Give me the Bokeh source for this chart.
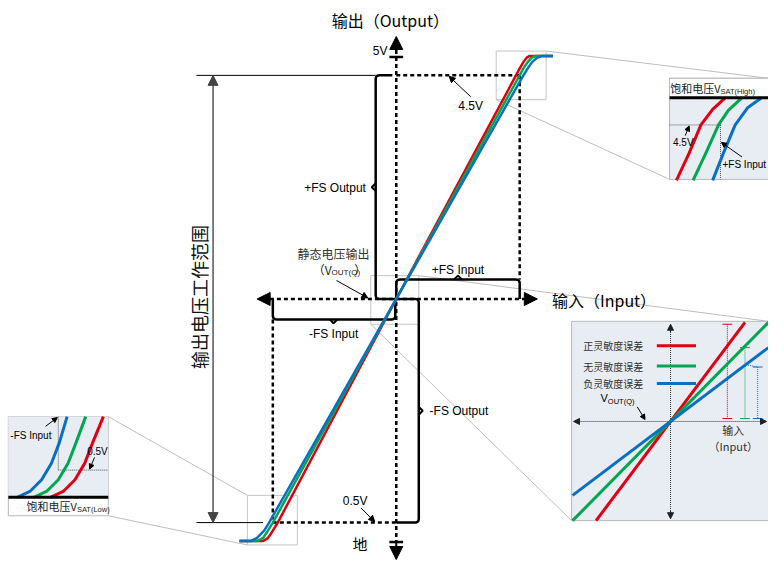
import numpy as np
from bokeh.plotting import figure
from bokeh.models import Range1d, Arrow, NormalHead
from bokeh.core.properties import value
from bokeh.embed import file_html
from bokeh.resources import INLINE

# ---------------- data ----------------
# output voltage levels (V)
v_gnd, v_low, v_q, v_high, v_sup = 0.0, 0.5, 2.5, 4.5, 5.0
fs = 1.0  # full-scale input (normalised)

# main transfer curves: input (x full scale) -> output (V)
red_in = [-1.27, -1.08, -1.04, -1.00, -0.96, 0.00, 0.97, 1.00, 1.03, 1.055, 1.08, 1.27]
green_in = [-1.27, -1.13, -1.08, -1.04, -1.00, 0.00, 1.00, 1.03, 1.065, 1.095, 1.13, 1.27]
blue_in = [-1.27, -1.18, -1.13, -1.07, -1.03, 0.00, 1.03, 1.065, 1.10, 1.14, 1.18, 1.27]
curve_out = [0.00, 0.00, 0.08, 0.28, 0.50, 2.50, 4.50, 4.68, 4.84, 4.95, 5.00, 5.00]

# centre inset: sensitivity error lines (input, output), normalised
c_red_in, c_red_out = [-0.76, 0.76], [-1.02, 1.02]
c_green_in, c_green_out = [-1.0, 1.0], [-1.02, 1.02]
c_blue_in, c_blue_out = [-1.0, 1.0], [-0.76, 0.76]
c_err_x = [0.58, 0.76, 0.89]
c_err_top = [1.00, 0.76, 0.56]
legend_labels = ["正灵敏度误差", "无灵敏度误差", "负灵敏度误差"]

# top-right inset (high saturation), local units
tr_red_a = [7, 20, 32, 44, 57]
tr_green_a = [24, 37, 50, 60, 74]
tr_blue_a = [44, 55, 67, 80, 94]
tr_red_b = [-1, 27, 56, 72, 84]
tr_green_b = [-1, 27, 56, 71, 84]
tr_blue_b = [-1, 27, 56, 74, 84]

# bottom-left inset (low saturation), local units
bl_blue_a = [9, 22, 34, 44, 52, 60]
bl_green_a = [26, 39, 51, 61, 69, 79]
bl_red_a = [43, 56, 68, 78, 86, 97]
bl_b = [0, 6, 18, 35, 56, 83]

RED, GREEN, BLUE = "#e00012", "#00a650", "#0a6fc2"
LAT = value("Liberation Sans")
CJK = value("Noto Sans CJK SC")
INSET_BG = "#e8ecf3"
GREY = "#b8b8b8"

# ---------------- layout mapping ----------------
X0, XS = 404, 126


def mx(u):
    return X0 + XS * np.asarray(u, dtype=float)


def my1(v):
    if v >= v_high:
        return 77 - (v - v_high) * 40
    if v >= v_low:
        return 307 - (v - v_q) * 115
    return 537 + (v_low - v) * 38


def my(vs):
    return np.array([my1(v) for v in np.atleast_1d(vs)])


def cxm(a):
    return 684 + 100 * np.asarray(a, dtype=float)


def cym(b):
    return 433 - 100 * np.asarray(b, dtype=float)


def trx(a):
    return 683 + np.asarray(a, dtype=float)


def tr_y(b):
    return 184 - np.asarray(b, dtype=float)


def blx(a):
    return 8 + np.asarray(a, dtype=float)


def bly(b):
    return 511 - np.asarray(b, dtype=float)


p = figure(width=768, height=560, output_backend="svg", toolbar_location=None,
           x_range=Range1d(0, 784), y_range=Range1d(576, 0), min_border=0)
p.axis.visible = False
p.grid.visible = False
p.outline_line_color = None
p.background_fill_color = "white"


def txt(x, y, s, size, align="center", font=LAT, color="black", angle=0.0, baseline="middle"):
    p.text(x=[x], y=[y], text=[s], text_font=font, text_font_size=f"{size}px",
           text_align=align, text_baseline=baseline, text_color=color, angle=angle)


def arrow(x0, y0, x1, y1, size=6, color="black", width=1.0, both=False, body=True):
    kw = {}
    if both:
        kw["start"] = NormalHead(size=size, fill_color=color, line_color=color, line_width=1)
    a = Arrow(end=NormalHead(size=size, fill_color=color, line_color=color, line_width=1),
              x_start=x0, y_start=y0, x_end=x1, y_end=y1, line_color=color,
              line_width=width, line_alpha=1.0 if body else 0.0, **kw)
    p.add_layout(a)


def rounded(pts, r=4, n=6):
    pts = [np.array(q, dtype=float) for q in pts]
    out = [pts[0]]
    for i in range(1, len(pts) - 1):
        p0, p1, p2 = pts[i - 1], pts[i], pts[i + 1]
        d1 = (p0 - p1) / np.linalg.norm(p0 - p1)
        d2 = (p2 - p1) / np.linalg.norm(p2 - p1)
        a, b = p1 + d1 * r, p1 + d2 * r
        for t in np.linspace(0, 1, n):
            out.append((1 - t) ** 2 * a + 2 * (1 - t) * t * p1 + t ** 2 * b)
    out.append(pts[-1])
    arr = np.array(out)
    return arr[:, 0], arr[:, 1]


# ---------------- connectors and zoom boxes ----------------
conn_xs = [[557, 784], [506, 683], [427, 784], [378, 583], [252, 110], [252, 110]]
conn_ys = [[52, 80], [102, 184], [283, 330], [333, 535], [509, 428], [560, 530]]
p.multi_line(xs=conn_xs, ys=conn_ys, line_color="#bdbdbd", line_width=1)

# ---------------- inset: top right ----------------
p.quad(left=683, right=784, top=80, bottom=184, fill_color=INSET_BG, line_color=GREY, line_width=1)
p.quad(left=683, right=784, top=80, bottom=100, fill_color="white", line_color=None)
p.segment(x0=[683, 683], y0=[80, 80], x1=[784, 683], y1=[80, 184], line_color=GREY, line_width=1)
p.line(x=list(trx([0, 52])), y=list(tr_y([56, 56])), line_color="#555", line_width=1, line_dash="1 1")
p.line(x=list(trx([52, 52])), y=list(tr_y([56, 0])), line_color="#555", line_width=1, line_dash="1 1")
for a, b, c in [(tr_red_a, tr_red_b, RED), (tr_green_a, tr_green_b, GREEN), (tr_blue_a, tr_blue_b, BLUE)]:
    p.line(x=list(trx(a)), y=list(tr_y(b)), line_color=c, line_width=3)
p.line(x=[683, 784], y=[100, 100], line_color="black", line_width=3)
txt(735, 90, "饱和电压V", 11, align="right", font=CJK, color="#222")
txt(735, 93.5, "SAT(High)", 7.5, align="left", color="#222")
txt(697, 146, "4.5V", 10)
arrow(699, 139, 703, 129, size=5)
txt(737, 169, "+FS Input", 10, align="left")
arrow(757, 161, 736, 146, size=5)

# ---------------- inset: bottom left ----------------
p.quad(left=8, right=110, top=428, bottom=530, fill_color="white", line_color=GREY, line_width=1)
p.quad(left=8, right=110, top=428, bottom=511, fill_color=INSET_BG, line_color=None)
p.line(x=list(blx([51, 51])), y=list(bly([83, 28])), line_color="#555", line_width=1, line_dash="1 1")
p.line(x=list(blx([51, 102])), y=list(bly([28, 28])), line_color="#555", line_width=1, line_dash="1 1")
for a, c in [(bl_red_a, RED), (bl_green_a, GREEN), (bl_blue_a, BLUE)]:
    p.line(x=list(blx(a)), y=list(bly(bl_b)), line_color=c, line_width=3)
p.line(x=[8, 110], y=[511, 511], line_color="black", line_width=3)
txt(78, 520, "饱和电压V", 11, align="right", font=CJK, color="#222")
txt(78, 523.5, "SAT(Low)", 7.5, align="left", color="#222")
txt(10, 447, "-FS Input", 10, align="left")
arrow(46, 438, 58, 429, size=5)
txt(99, 464, "0.5V", 10)
arrow(96, 470, 91, 482, size=5)

# ---------------- inset: centre ----------------
p.quad(left=583, right=784, top=330, bottom=535, fill_color=INSET_BG, line_color=GREY, line_width=1)
p.line(x=list(cxm([0, 0])), y=[341, 525], line_color="#333", line_width=1, line_dash="1 1")
p.line(x=[591, 776], y=list(cym([0, 0])), line_color="#333", line_width=1, line_dash="1 1")
arrow(684, 341, 684, 333, size=6, color="#222", width=1)
arrow(684, 525, 684, 533, size=6, color="#222", width=1)
arrow(591, 433, 585, 433, size=6, color="#222", width=1)
arrow(776, 433, 782, 433, size=6, color="#222", width=1)
for xi, yt, c in zip(c_err_x, c_err_top, [RED, GREEN, BLUE]):
    xx = float(cxm(xi))
    p.line(x=[xx, xx], y=[float(cym(yt)), float(cym(0.03))], line_color=c, line_width=1, line_dash="1 1")
    p.segment(x0=[xx - 5, xx - 5], y0=[float(cym(yt)), float(cym(0.03))],
              x1=[xx + 5, xx + 5], y1=[float(cym(yt)), float(cym(0.03))], line_color=c, line_width=1)
p.line(x=[float(cxm(0.79)), float(cxm(0.89))], y=[float(cym(0.58)), float(cym(0.56))],
       line_color=BLUE, line_width=1, line_dash="1 1")
for a, b, c in [(c_red_in, c_red_out, RED), (c_green_in, c_green_out, GREEN), (c_blue_in, c_blue_out, BLUE)]:
    p.line(x=list(cxm(a)), y=list(cym(b)), line_color=c, line_width=3)
for lab, yy, c in zip(legend_labels, [355, 376, 394], [RED, GREEN, BLUE]):
    txt(595, yy, lab, 10, align="left", font=CJK, color="#333")
    p.line(x=[670, 710], y=[yy, yy], line_color=c, line_width=3)
txt(620, 409, "V", 11, align="right")
txt(620, 412, "OUT(Q)", 7.5, align="left")
arrow(650, 418, 658, 431, size=5)
txt(748, 442, "输入", 11, font=CJK, color="#333")
txt(748, 458, "（Input）", 11, font=CJK, color="#333")

# zoom boxes on main chart
p.quad(left=[506, 378, 252], right=[557, 427, 303], top=[52, 283, 509], bottom=[102, 333, 560],
       fill_color=None, line_color="#c4c4c4", line_width=1)

# ---------------- main diagram ----------------
xa = float(mx(0))
yq = float(my(v_q)[0])
yh = float(my(v_high)[0])
yl = float(my(v_low)[0])
ys = float(my(v_sup)[0])
yg = float(my(v_gnd)[0])
xp = float(mx(fs))
xn = float(mx(-fs))

# thin extension lines and range arrow
p.segment(x0=[200, 200], y0=[yh, yl], x1=[383, 268], y1=[yh, yl], line_color="black", line_width=1)
arrow(217, yh + 10, 217, yh, size=10, color="#444", width=1.5, body=False)
p.line(x=[217, 217], y=[yh + 8, yl - 8], line_color="#555", line_width=1.5)
arrow(217, yl - 10, 217, yl, size=10, color="#444", width=1.5, body=False)
txt(203, 305, "输出电压工作范围", 18, font=CJK, angle=np.pi / 2, color="#111")

# dashed guides
DASH = dict(line_color="black", line_width=2.5, line_dash="4 3")
p.line(x=[xa, xa], y=[ys - 6, yg + 1], **DASH)
p.line(x=[275, 535], y=[yq, yq], **DASH)
p.line(x=[xa, xp], y=[yh, yh], **DASH)
p.line(x=[xp, xp], y=[yh, 287], **DASH)
p.line(x=[xn, xn], y=[328, yl], **DASH)
p.line(x=[xn, xa], y=[yl, yl], **DASH)

# axis arrows and ticks
arrow(xa, 52, xa, 37, size=13, body=False)
arrow(xa, 561, xa, 575, size=13, body=False)
arrow(277, yq, 262, yq, size=13, body=False)
arrow(533, yq, 548, yq, size=13, body=False)
p.segment(x0=[xa - 7, xa - 7], y0=[ys + 1, yg + 1], x1=[xa + 7, xa + 7], y1=[ys + 1, yg + 1],
          line_color="black", line_width=2.5)
p.line(x=[xa, xa], y=[yg + 1, 564], line_color="black", line_width=2)

# brackets
BR = dict(line_color="black", line_width=2.5)
bx, by = rounded([(xa - 4, yh), (383, yh), (383, yq), (427, yq), (427, yl), (xa, yl)])
p.line(x=list(bx), y=list(by), **BR)
bx, by = rounded([(xa, yq), (xa, 287), (xp, 287), (xp, yq)])
p.line(x=list(bx), y=list(by), **BR)
bx, by = rounded([(xn, yq), (xn, 328), (xa - 1, 328), (xa - 1, yq)])
p.line(x=list(bx), y=list(by), **BR)
p.multi_line(xs=[[383, 379, 383], [427, 431, 427], [463, 467, 471], [336, 340, 344]],
             ys=[[188, 192, 196], [418, 422, 426], [287, 283, 287], [328, 332, 328]], line_width=2, line_color="black")

# transfer curves
for xin, c in [(red_in, RED), (green_in, GREEN), (blue_in, BLUE)]:
    p.line(x=list(mx(xin)), y=list(my(curve_out)), line_color=c, line_width=2.5)

# labels
txt(398, 20, "输出（Output）", 16, font=CJK)
txt(563, 308, "输入（Input）", 16, align="left", font=CJK)
txt(367, 558, "地", 15, font=CJK)
txt(395, 52, "5V", 12, align="right")
txt(373, 193, "+FS Output", 12, align="right")
txt(438, 422, "-FS Output", 12, align="left")
txt(467, 277, "+FS Input", 12)
txt(340, 343, "-FS Input", 12)
txt(480, 108, "4.5V", 12)
arrow(480, 99, 458, 78, size=6)
txt(362, 515, "0.5V", 12)
arrow(368, 522, 382, 536, size=6)
txt(340, 260, "静态电压输出", 12, font=CJK, color="#333")
txt(338, 277, "（V", 12, align="right", font=CJK, color="#222")
txt(338, 280, "OUT(Q)", 8, align="left", color="#222")
txt(361, 277, "）", 12, align="left", font=CJK, color="#222")
arrow(343, 288, 375, 306, size=6)

open("out.html", "w").write(file_html(p, INLINE))
